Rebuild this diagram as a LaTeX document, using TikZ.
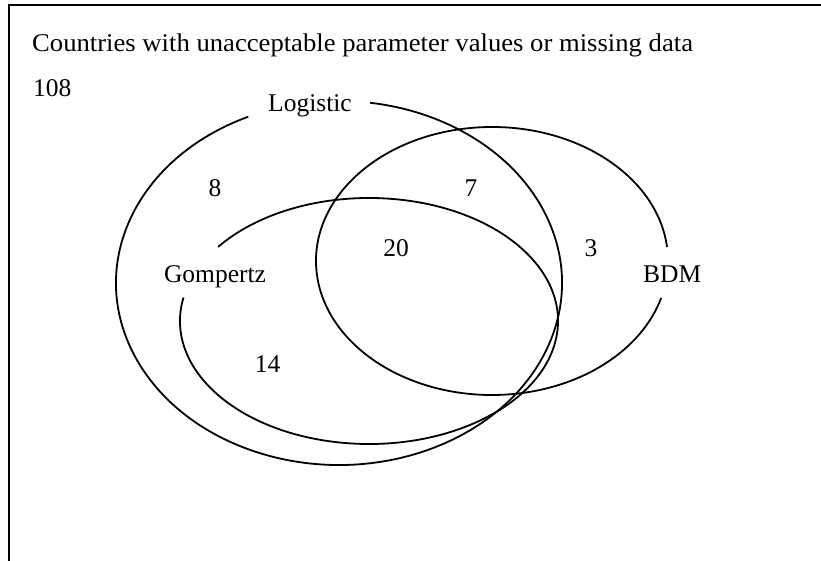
\documentclass[tikz,border=0pt]{standalone}
\usepackage{fontspec}
\usepackage{graphicx}
\setmainfont{Liberation Serif}
\begin{document}
\begin{tikzpicture}[x=1pt,y=1pt,
  curve/.style={line width=1.8pt,black},
  frame/.style={line width=1.8pt,black},
  lbl/.style={inner sep=0pt,font=\fontsize{25.5}{30}\selectfont}]
\useasboundingbox (0,0) rectangle (821,561);
% frame (top and left edges only)
\coordinate (fbl) at (9,0);
\coordinate (ftl) at (9,556);
\coordinate (ftr) at (821,556);
\draw[frame] (fbl) -- (ftl) -- (ftr);
% ellipse centres
\coordinate (Lc) at (339,278);
\coordinate (Bc) at (492,300);
\coordinate (Gc) at (369,240);
% Logistic
\draw[curve] ([shift={(114:223 and 182)}]Lc) arc[start angle=114,end angle=442,x radius=223,y radius=182];
% BDM
\draw[curve] ([shift={(6:176 and 134)}]Bc) arc[start angle=6,end angle=344,x radius=176,y radius=134];
% Gompertz
\draw[curve] ([shift={(169:189 and 123)}]Gc) arc[start angle=169,end angle=503,x radius=189,y radius=123];
% texts
\node[lbl,anchor=base west] (title) at (32,509) {\scalebox{1.045}[1]{Countries with unacceptable parameter values or missing data}};
\node[lbl,anchor=base west] (n108) at (33,464) {108};
\node[lbl,anchor=base] (logistic) at (310,449) {Logistic};
\node[lbl,anchor=base] (n8) at (215,364) {8};
\node[lbl,anchor=base] (n7) at (471,364) {7};
\node[lbl,anchor=base] (n20) at (396,304) {20};
\node[lbl,anchor=base] (n3) at (591,304) {3};
\node[lbl,anchor=base] (gompertz) at (215,278) {Gompertz};
\node[lbl,anchor=base west] (bdm) at (643,278) {BDM};
\node[lbl,anchor=base] (n14) at (267.5,188) {14};
\end{tikzpicture}
\end{document}
